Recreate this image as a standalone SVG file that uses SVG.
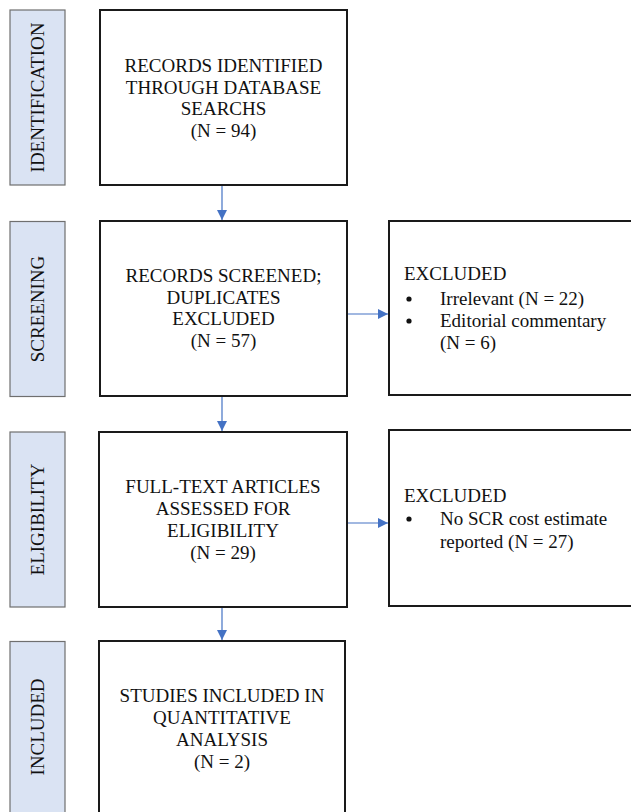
<svg xmlns="http://www.w3.org/2000/svg" width="631" height="812" viewBox="0 0 631 812">
<defs>
<marker id="ah" markerWidth="10" markerHeight="10" refX="10" refY="5" orient="auto" markerUnits="userSpaceOnUse">
<path d="M0,0 L10,5 L0,10 Z" fill="#4472c4"/>
</marker>
<style>
.side{fill:#dae3f3;stroke:#6f6f6f;stroke-width:1.2}
.box{fill:#fff;stroke:#1a1a1a;stroke-width:2}
text{font-family:"Liberation Serif","Times New Roman",serif;font-size:19px;fill:#111}
.c{text-anchor:middle}
.conn{stroke:#4472c4;stroke-width:1.2;fill:none}
</style>
</defs>
<rect width="631" height="812" fill="#fff"/>
<g id="side-identification">
<rect class="side" x="10" y="10" width="55" height="175"/>
<text class="c" transform="translate(44,97.5) rotate(-90)">IDENTIFICATION</text>
</g>
<g id="side-screening">
<rect class="side" x="10" y="221.5" width="55" height="175"/>
<text class="c" transform="translate(44,309) rotate(-90)">SCREENING</text>
</g>
<g id="side-eligibility">
<rect class="side" x="10" y="432" width="55" height="175"/>
<text class="c" transform="translate(44,519.5) rotate(-90)">ELIGIBILITY</text>
</g>
<g id="side-included">
<rect class="side" x="10" y="641.5" width="55" height="190"/>
<text class="c" transform="translate(44,727) rotate(-90)">INCLUDED</text>
</g>
<g id="identified">
<rect class="box" x="100" y="10" width="247" height="175"/>
<text class="c" x="223.5" y="72">RECORDS IDENTIFIED</text>
<text class="c" x="223.5" y="93.5">THROUGH DATABASE</text>
<text class="c" x="223.5" y="115">SEARCHS</text>
<text class="c" x="223.5" y="136.5">(N = 94)</text>
</g>
<g id="screened">
<rect class="box" x="100" y="221" width="247" height="175"/>
<text class="c" x="223.5" y="282">RECORDS SCREENED;</text>
<text class="c" x="223.5" y="303.5">DUPLICATES</text>
<text class="c" x="223.5" y="325">EXCLUDED</text>
<text class="c" x="223.5" y="346.5">(N = 57)</text>
</g>
<g id="excluded-1">
<rect class="box" x="389" y="221" width="260" height="174"/>
<text x="404" y="280">EXCLUDED</text>
<circle cx="409" cy="299" r="2.6" fill="#111"/>
<text x="440" y="305">Irrelevant (N = 22)</text>
<circle cx="409" cy="321" r="2.6" fill="#111"/>
<text x="440" y="327">Editorial commentary</text>
<text x="440" y="349">(N = 6)</text>
</g>
<g id="eligibility">
<rect class="box" x="99" y="432" width="248" height="175"/>
<text class="c" x="223" y="493">FULL-TEXT ARTICLES</text>
<text class="c" x="223" y="515">ASSESSED FOR</text>
<text class="c" x="223" y="537">ELIGIBILITY</text>
<text class="c" x="223" y="559">(N = 29)</text>
</g>
<g id="excluded-2">
<rect class="box" x="389" y="430" width="260" height="176"/>
<text x="404" y="502">EXCLUDED</text>
<circle cx="409" cy="519" r="2.6" fill="#111"/>
<text x="440" y="525">No SCR cost estimate</text>
<text x="440" y="548">reported (N = 27)</text>
</g>
<g id="included">
<rect class="box" x="99" y="641" width="246" height="190"/>
<text class="c" x="222" y="702">STUDIES INCLUDED IN</text>
<text class="c" x="222" y="724">QUANTITATIVE</text>
<text class="c" x="222" y="746">ANALYSIS</text>
<text class="c" x="222" y="768">(N = 2)</text>
</g>
<g id="connectors">
<line class="conn" x1="222" y1="186" x2="222" y2="220" marker-end="url(#ah)"/>
<line class="conn" x1="222" y1="397" x2="222" y2="431" marker-end="url(#ah)"/>
<line class="conn" x1="222" y1="608" x2="222" y2="640" marker-end="url(#ah)"/>
<line class="conn" x1="348" y1="314" x2="388" y2="314" marker-end="url(#ah)"/>
<line class="conn" x1="348" y1="523" x2="388" y2="523" marker-end="url(#ah)"/>
</g>
</svg>
